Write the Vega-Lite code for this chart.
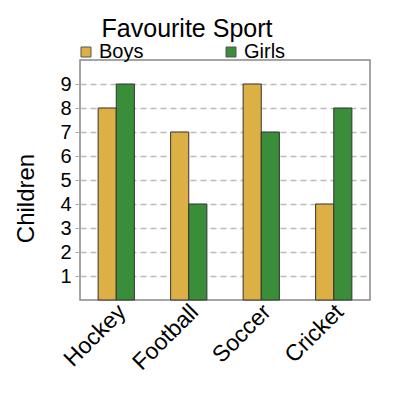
{
  "$schema": "https://vega.github.io/schema/vega-lite/v6.json",
  "autosize": "none",
  "padding": {"left": 80, "top": 60, "right": 30, "bottom": 100},
  "width": 290,
  "height": 240,
  "title": {"text": "Favourite Sport", "font": "Liberation Sans", "fontSize": 25, "fontWeight": "normal", "color": "#000", "anchor": "middle", "dx": -38, "offset": 0},
  "config": {
    "font": "Liberation Sans",
    "view": {"stroke": "#888", "strokeWidth": 1.5}
  },
  "data": {"values": [
    {"sport": "Hockey", "gender": "Boys", "children": 8},
    {"sport": "Hockey", "gender": "Girls", "children": 9},
    {"sport": "Football", "gender": "Boys", "children": 7},
    {"sport": "Football", "gender": "Girls", "children": 4},
    {"sport": "Soccer", "gender": "Boys", "children": 9},
    {"sport": "Soccer", "gender": "Girls", "children": 7},
    {"sport": "Cricket", "gender": "Boys", "children": 4},
    {"sport": "Cricket", "gender": "Girls", "children": 8}
  ]},
  "mark": {"type": "bar", "stroke": "#333", "strokeWidth": 1},
  "encoding": {
    "x": {"field": "sport", "type": "nominal", "sort": ["Hockey", "Football", "Soccer", "Cricket"],
      "scale": {"paddingInner": 0.5, "paddingOuter": 0.25},
      "axis": {"title": null, "labelAngle": -45, "labelAlign": "right", "labelBaseline": "middle", "labelFontSize": 23, "labelColor": "#000", "domain": false, "ticks": false, "labelPadding": 8, "labelOffset": 6}},
    "xOffset": {"field": "gender", "type": "nominal"},
    "y": {"field": "children", "type": "quantitative", "scale": {"domain": [0, 10]},
      "axis": {"title": "Children", "titleFontSize": 24, "titleFontWeight": "normal", "titleColor": "#000", "titleX": -47, "titleY": 138, "titleAlign": "center", "titleBaseline": "alphabetic", "titleAngle": -90,
        "values": [1,2,3,4,5,6,7,8,9], "labelFontSize": 20, "labelColor": "#000", "labelPadding": 4, "domain": false, "tickColor": "#aaa", "tickSize": 5,
        "grid": true, "gridColor": "#bbb", "gridDash": [6, 4], "gridWidth": 1.5}},
    "fill": {"field": "gender", "type": "nominal",
      "scale": {"domain": ["Boys", "Girls"], "range": ["#DDB046", "#3A8E3A"]},
      "legend": {"title": null, "orient": "none", "legendX": -4, "legendY": -18, "direction": "horizontal", "columns": 2, "columnPadding": 77,
        "symbolType": "square", "symbolSize": 100, "symbolStrokeColor": "#555", "symbolStrokeWidth": 1, "labelFontSize": 20, "labelColor": "#000", "labelOffset": 3}}
  }
}
